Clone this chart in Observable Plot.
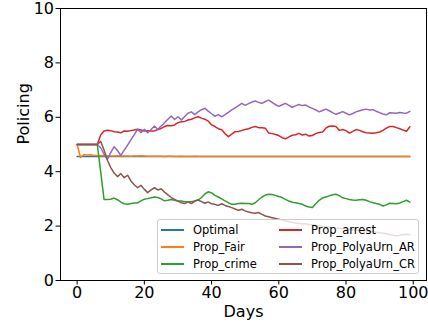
<!DOCTYPE html>
<html>
<head>
<meta charset="utf-8">
<script src="https://cdn.jsdelivr.net/npm/d3@7"></script>
<script src="https://cdn.jsdelivr.net/npm/@observablehq/plot@0.6"></script>
<style>
  html, body { margin: 0; padding: 0; background: #fff; }
  #wrap { position: relative; width: 428px; height: 324px; overflow: hidden; font-family: "DejaVu Sans", sans-serif; }
  #legend { position: absolute; left: 157px; top: 219px; width: 262px; height: 55px; box-sizing: border-box;
            background: rgba(255,255,255,0.8); border: 1px solid #cccccc; border-radius: 3px; }
  .item { position: absolute; height: 17px; display: flex; align-items: center; font-size: 11.5px; color: #000; white-space: nowrap; }
  .sw { width: 23px; height: 1.6px; margin-right: 9px; }
</style>
</head>
<body>
<div id="wrap"><div id="chart"></div><div id="legend"></div></div>
<script>
const days = [0,1,2,3,4,5,6,7,8,9,10,11,12,13,14,15,16,17,18,19,20,21,22,23,24,25,26,27,28,29,30,31,32,33,34,35,36,37,38,39,40,41,42,43,44,45,46,47,48,49,50,51,52,53,54,55,56,57,58,59,60,61,62,63,64,65,66,67,68,69,70,71,72,73,74,75,76,77,78,79,80,81,82,83,84,85,86,87,88,89,90,91,92,93,94,95,96,97,98,99];

const seriesNames = ["Optimal","Prop_Fair","Prop_crime","Prop_arrest","Prop_PolyaUrn_AR","Prop_PolyaUrn_CR"];
const seriesColors = ["#1f77b4","#ff7f0e","#2ca02c","#d62728","#9467bd","#8c564b"];

const optimal = [4.56,4.56,4.56,4.56,4.56,4.56,4.56,4.56,4.56,4.56,4.56,4.56,4.56,4.56,4.56,4.56,4.56,4.56,4.56,4.56,4.56,4.56,4.56,4.56,4.56,4.56,4.56,4.56,4.56,4.56,4.56,4.56,4.56,4.56,4.56,4.56,4.56,4.56,4.56,4.56,4.56,4.56,4.56,4.56,4.56,4.56,4.56,4.56,4.56,4.56,4.56,4.56,4.56,4.56,4.56,4.56,4.56,4.56,4.56,4.56,4.56,4.56,4.56,4.56,4.56,4.56,4.56,4.56,4.56,4.56,4.56,4.56,4.56,4.56,4.56,4.56,4.56,4.56,4.56,4.56,4.56,4.56,4.56,4.56,4.56,4.56,4.56,4.56,4.56,4.56,4.56,4.56,4.56,4.56,4.56,4.56,4.56,4.56,4.56,4.56];

const propFair = [5.00,4.52,4.63,4.61,4.62,4.60,4.60,4.59,4.60,4.59,4.58,4.58,4.59,4.58,4.58,4.58,4.57,4.58,4.58,4.59,4.58,4.57,4.57,4.57,4.57,4.57,4.56,4.57,4.57,4.56,4.56,4.57,4.56,4.56,4.56,4.57,4.56,4.56,4.56,4.56,4.56,4.56,4.56,4.56,4.56,4.56,4.56,4.56,4.56,4.56,4.56,4.56,4.56,4.56,4.56,4.56,4.56,4.56,4.56,4.56,4.56,4.56,4.56,4.56,4.56,4.56,4.56,4.56,4.56,4.56,4.56,4.56,4.56,4.56,4.56,4.56,4.56,4.56,4.56,4.56,4.56,4.56,4.56,4.56,4.56,4.56,4.56,4.56,4.56,4.56,4.56,4.56,4.56,4.56,4.56,4.56,4.56,4.56,4.56,4.56];

const propCrime = [5.00,5.00,5.00,5.00,5.00,5.00,5.00,4.00,2.98,2.98,2.99,3.03,2.97,2.88,2.82,2.80,2.83,2.85,2.85,2.93,2.99,3.01,3.04,3.07,3.05,3.00,2.93,2.95,2.98,2.95,2.92,2.92,2.90,2.89,2.90,2.92,2.96,3.05,3.18,3.26,3.22,3.13,3.07,3.00,2.93,2.86,2.80,2.80,2.83,2.84,2.83,2.83,2.80,2.86,2.97,3.07,3.14,3.17,3.16,3.13,3.09,3.05,2.98,2.92,2.88,2.86,2.83,2.80,2.74,2.70,2.68,2.82,2.95,3.03,3.07,3.11,3.15,3.17,3.12,3.04,3.01,2.98,2.96,2.95,2.97,2.98,2.95,2.90,2.86,2.83,2.80,2.74,2.78,2.84,2.83,2.82,2.85,2.90,2.95,2.88];

const propArrest = [5.00,5.00,5.00,5.00,5.00,5.00,5.00,5.35,5.50,5.52,5.51,5.47,5.46,5.43,5.50,5.49,5.51,5.53,5.56,5.53,5.50,5.51,5.50,5.50,5.55,5.59,5.66,5.70,5.69,5.72,5.80,5.84,5.85,5.90,5.93,5.98,6.02,5.97,5.93,5.86,5.72,5.66,5.58,5.54,5.40,5.29,5.38,5.47,5.48,5.52,5.55,5.58,5.63,5.66,5.62,5.62,5.60,5.42,5.40,5.37,5.33,5.25,5.21,5.28,5.34,5.36,5.41,5.35,5.38,5.31,5.33,5.40,5.44,5.46,5.60,5.67,5.68,5.66,5.52,5.55,5.51,5.42,5.48,5.55,5.52,5.47,5.43,5.42,5.41,5.43,5.46,5.52,5.60,5.66,5.66,5.62,5.58,5.53,5.49,5.65];

const propPolyaAR = [5.00,5.00,5.00,5.00,5.00,5.00,5.00,4.88,4.65,4.45,4.70,4.92,4.78,4.60,4.79,4.98,5.17,5.36,5.56,5.43,5.56,5.43,5.55,5.68,5.56,5.68,5.80,5.93,6.05,5.92,6.02,5.90,6.03,6.15,6.20,6.10,6.20,6.28,6.33,6.23,6.13,6.04,6.10,6.02,6.10,6.18,6.27,6.35,6.43,6.51,6.44,6.50,6.56,6.60,6.55,6.51,6.58,6.63,6.55,6.47,6.40,6.46,6.51,6.44,6.37,6.42,6.47,6.43,6.45,6.38,6.33,6.27,6.20,6.25,6.30,6.24,6.17,6.11,6.16,6.21,6.15,6.09,6.14,6.20,6.24,6.28,6.30,6.27,6.28,6.22,6.17,6.12,6.09,6.17,6.16,6.15,6.18,6.16,6.15,6.22];

const propPolyaCR = [5.00,5.00,5.00,5.00,5.00,5.00,5.00,5.12,4.80,4.42,4.15,3.95,3.82,3.93,3.78,3.87,3.66,3.52,3.41,3.50,3.35,3.23,3.33,3.41,3.33,3.37,3.25,3.15,3.05,2.98,2.92,2.86,2.83,2.88,2.83,2.92,2.96,2.90,2.84,2.89,2.82,2.80,2.76,2.82,2.76,2.72,2.68,2.63,2.58,2.62,2.56,2.52,2.49,2.47,2.50,2.43,2.37,2.34,2.31,2.28,2.25,2.22,2.19,2.17,2.13,2.11,2.10,2.08,2.09,2.06,2.05,2.03,2.01,1.99,1.98,1.97,1.95,1.93,1.92,1.91,1.90,1.88,1.87,1.86,1.85,1.84,1.82,1.80,1.79,1.77,1.76,1.74,1.72,1.69,1.66,1.64,1.66,1.69,1.70,1.68];

const xTicks = [0,20,40,60,80,100];
const yTicks = [0,2,4,6,8,10];
const xLabel = "Days";
const yLabel = "Policing";

const seriesValues = [optimal, propFair, propCrime, propArrest, propPolyaAR, propPolyaCR];

const rows = [];
seriesNames.forEach((name, si) => {
  seriesValues[si].forEach((v, i) => rows.push({series: name, day: days[i], value: v}));
});

const lineMarks = seriesNames.map((name, si) =>
  Plot.line(rows.filter(r => r.series === name), {x: "day", y: "value", stroke: seriesColors[si], strokeWidth: 1.5})
);

const chart = Plot.plot({
  width: 428,
  height: 324,
  marginLeft: 60,
  marginRight: 2,
  marginTop: 8,
  marginBottom: 44,
  style: {fontFamily: "DejaVu Sans, sans-serif", fontSize: "16px", color: "#000", background: "#fff", overflow: "visible"},
  x: {domain: [-4.95, 103.95]},
  y: {domain: [0, 10]},
  marks: [
    ...lineMarks,
    Plot.frame({stroke: "#000", strokeWidth: 1}),
    Plot.axisX({ticks: xTicks, tickSize: 4.5, tickPadding: 2, label: null, fontSize: 16}),
    Plot.axisY({ticks: yTicks, tickSize: 4.5, tickPadding: 2, label: null, fontSize: 16}),
    Plot.text([xLabel], {frameAnchor: "bottom", lineAnchor: "top", dy: 25.5, fontSize: 16, fill: "#000"}),
    Plot.text([yLabel], {frameAnchor: "left", rotate: -90, dx: -37, fontSize: 16, fill: "#000"})
  ]
});
document.getElementById("chart").appendChild(chart);

// legend
const legend = document.getElementById("legend");
seriesNames.forEach((name, si) => {
  const col = Math.floor(si / 3), row = si % 3;
  const item = document.createElement("div");
  item.className = "item";
  item.style.left = (col === 0 ? 3 : 121) + "px";
  item.style.top = (1.5 + row * 17) + "px";
  const sw = document.createElement("div");
  sw.className = "sw";
  sw.style.background = seriesColors[si];
  const label = document.createElement("span");
  label.textContent = name;
  item.appendChild(sw);
  item.appendChild(label);
  legend.appendChild(item);
});
</script>
</body>
</html>
